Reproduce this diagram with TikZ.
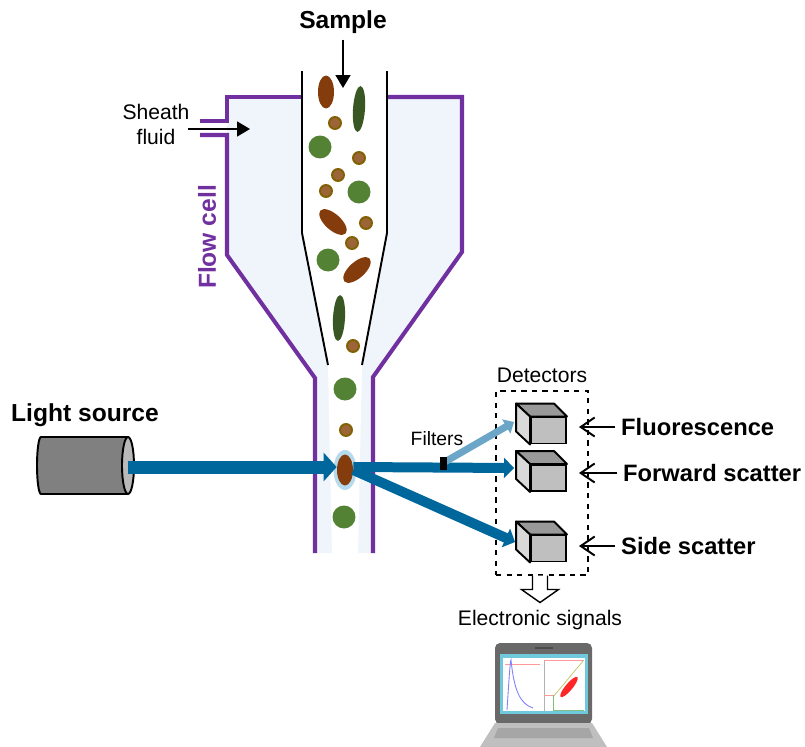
\documentclass[tikz,border=0pt]{standalone}
\usepackage{fontspec}
\setmainfont{Liberation Sans}
\usetikzlibrary{arrows.meta,positioning,shapes.geometric}

\definecolor{cellpurple}{RGB}{112,48,160}
\definecolor{sheath}{RGB}{240,245,251}
\definecolor{beam}{RGB}{0,103,156}
\definecolor{fluobeam}{RGB}{107,166,200}
\definecolor{halo}{RGB}{182,218,237}
\definecolor{rbc}{RGB}{132,60,12}
\definecolor{rod}{RGB}{56,87,35}
\definecolor{bead}{RGB}{84,130,53}
\definecolor{dot}{RGB}{156,101,56}
\definecolor{dotring}{RGB}{128,96,0}
\definecolor{bezel}{RGB}{105,105,105}
\definecolor{screenrim}{RGB}{112,200,221}

\tikzset{
  wall/.style={cellpurple, line width=2.3pt},
  tube/.style={black, line width=1.1pt},
  thinarrow/.style={-{Triangle[length=0.26cm,width=0.3cm]}, line width=1pt},
  pointer/.style={-{Straight Barb[length=0.28cm,width=0.38cm]}, line width=1.1pt},
  bigtext/.style={font=\fontsize{14}{16}\selectfont\bfseries},
  sidetext/.style={font=\fontsize{13.5}{16}\selectfont\bfseries},
  smalltext/.style={font=\fontsize{12}{14.2}\selectfont},
  detector/.style={draw, line width=1.1pt, fill=gray!50, minimum width=0.7cm, minimum height=0.52cm, inner sep=0pt},
  hollow/.style={draw, fill=white, line width=0.8pt, line join=miter},
}

\begin{document}
\begin{tikzpicture}[x=0.02cm, y=-0.02cm]
\useasboundingbox (0,0) rectangle (805,747);

%%%FLOW CELL
\fill[sheath] (227,97) -- (462,97) -- (462,252) -- (373,377) -- (373,553)
  -- (315,553) -- (315,378) -- (227,255) -- cycle;
\fill[white] (302,71) -- (302,233) -- (328,365) -- (332,553) -- (358,553)
  -- (362,365) -- (387,233) -- (387,71) -- cycle;
\draw[wall] (200,121) -- (227,121) -- (227,97) -- (302,97);
\draw[wall] (200,135) -- (227,135) -- (227,255) -- (315,378) -- (315,553);
\draw[wall] (387,97) -- (462,97) -- (462,252) -- (373,377) -- (373,553);
\draw[tube] (302,71) -- (302,233) -- (328,365);
\draw[tube] (387,71) -- (387,233) -- (362,365);

%%%PARTICLES
\foreach \x/\y in {320/147, 359/192, 328/260, 345/389, 344/517}
  \fill[bead] (\x,\y) circle [radius=0.23cm];
\foreach \x/\y in {335/123, 359/158, 338/175, 326/191, 366/223, 352/243, 353/346, 346/430}
  \filldraw[fill=dot, draw=dotring, line width=1.1pt] (\x,\y) circle [radius=0.12cm];
\fill[rbc] (326,92) circle [x radius=0.16cm, y radius=0.33cm];
\fill[rbc] (333,222) circle [x radius=0.34cm, y radius=0.16cm, rotate=-42];
\fill[rbc] (357,270) circle [x radius=0.34cm, y radius=0.16cm, rotate=42];
\fill[rod] (359,109) circle [x radius=0.12cm, y radius=0.46cm, rotate=-4];
\fill[rod] (339,318) circle [x radius=0.12cm, y radius=0.46cm, rotate=-3];

%%%CELL IN THE BEAM
\fill[halo] (345,470) circle [x radius=0.23cm, y radius=0.4cm];
\node[ellipse, fill=rbc, minimum width=0.32cm, minimum height=0.62cm, inner sep=0pt] (cell) at (345,470) {};

%%%LIGHT SOURCE
\filldraw[fill=gray, line width=1.1pt] (128,437) -- (41,437)
  arc [start angle=90, end angle=270, x radius=0.08cm, y radius=0.57cm] -- (128,494);
\filldraw[fill=gray!55, line width=1.1pt] (128,465.5) circle [x radius=0.12cm, y radius=0.57cm];
\coordinate (laser) at (128,467);
\node[bigtext] (srclabel) at (85,415) {Light source};

%%%LABELS
\node[bigtext] (sample) at (343,22) {Sample};
\coordinate (tubein) at (343,88);
\draw[thinarrow] (sample.south) -- (tubein);
\node[smalltext, align=center] (sheathlabel) at (156,124) {Sheath\\fluid};
\coordinate (inlet) at (250,129);
\draw[thinarrow, shorten <=-0.16cm] (sheathlabel.east |- inlet) -- (inlet);
\node[bigtext, text=cellpurple, rotate=90] (celllabel) at (207,237) {Flow cell};

%%%DETECTORS
\node[draw, dashed, line width=0.6pt, minimum width=1.84cm, minimum height=3.68cm, inner sep=0pt] (detbox) at (542,483) {};
\node[smalltext, above=1pt of detbox] (detlabel) {Detectors};
\node[detector] (fl) at (548.5,430.5) {};
\node[detector] (fs) at (548.5,478) {};
\node[detector] (ss) at (548.5,548.5) {};
\foreach \d in {fl,fs,ss}{
  \filldraw[fill=gray!80, line width=1.1pt, line join=round] (\d.north west) -- (\d.north east)
    -- ++(-0.26cm,0.26cm) -- ([shift={(-0.28cm,0.26cm)}]\d.north west) -- cycle;
  \filldraw[fill=gray!30, line width=1.1pt, line join=round] (\d.north west) -- (\d.south west)
    -- ++(-0.28cm,0.26cm) -- ([shift={(-0.28cm,0.26cm)}]\d.north west) -- cycle;
}

%%%BEAMS
\coordinate (filterpos) at (443,463);
\draw[beam, line width=0.26cm, -{Triangle[length=0.26cm,width=0.56cm]}] (laser) -- (laser -| cell.west);
\draw[beam, line width=0.2cm, -{Triangle[length=0.2cm,width=0.4cm]}] (cell.east) -- ([xshift=-0.3cm,yshift=0.13cm]ss.west);
\draw[beam, line width=0.2cm, -{Triangle[length=0.2cm,width=0.4cm]}] ([yshift=0.06cm]cell.east) -- ([xshift=-0.32cm,yshift=0.2cm]fs.west);
\draw[fluobeam, line width=0.14cm, -{Triangle[length=0.18cm,width=0.32cm]}] (filterpos) -- ([xshift=-0.32cm,yshift=0.17cm]fl.west);
\node[fill=black, minimum width=0.14cm, minimum height=0.26cm, inner sep=0pt] (filter) at (filterpos) {};
\node[smalltext, font=\fontsize{11}{13}\selectfont] (filterlabel) at (437,439) {Filters};

%%%WHAT EACH DETECTOR SEES
\node[sidetext, anchor=west] (fllabel) at (615,427) {Fluorescence};
\node[sidetext, anchor=west] (fslabel) at (617,473) {Forward scatter};
\node[sidetext, anchor=west] (sslabel) at (615,546) {Side scatter};
\draw[pointer, shorten >=0.24cm] (fllabel.west) -- (fllabel.west -| fl.east);
\draw[pointer, shorten >=0.24cm] (fslabel.west) -- (fslabel.west -| fs.east);
\draw[pointer, shorten >=0.24cm] (sslabel.west) -- (sslabel.west -| ss.east);

%%%SIGNALS
\draw[hollow] ([xshift=-0.19cm]detbox.south) -- ++(0,14) -- ++(-11,0) -- ++(18.5,13)
  -- ++(18.5,-13) -- ++(-11,0) -- ++(0,-14);
\node[smalltext] (signals) at (540,620) {Electronic signals};

%%%LAPTOP
\fill[bezel, rounded corners=0.1cm] (495,643) rectangle (592,724);
\draw[black!70, line width=1.2pt] (535,648) -- (553,648);
\fill[screenrim] (500,654) rectangle (588,714);
\fill[white] (503,658) rectangle (585,711);
\draw[red!40, line width=0.4pt] (505,664) -- (540,664);
\draw[blue!50, line width=0.5pt] (507,710) .. controls (509,680) and (510,662) .. (511,660)
  .. controls (514,690) and (520,704) .. (533,708);
\draw[black!30, line width=0.3pt] (544,660) -- (544,711);
\draw[red!40, line width=0.4pt] (544,660) -- (584,660);
\draw[olive!50, line width=0.4pt] (553,697) -- (583,661);
\fill[red!85] (569,687) circle [x radius=0.26cm, y radius=0.07cm, rotate=50];
\draw[red!40, line width=0.4pt] (544,695) -- (553,695);
\draw[green!50!black!50, line width=0.4pt] (553,695) -- (553,710) -- (584,710);
\fill[gray!50] (495,723) -- (592,723) -- (607,747) -- (480,747) -- cycle;
\fill[gray!70] (498,728) -- (589,728) -- (593,738) -- (494,738) -- cycle;
\end{tikzpicture}
\end{document}
